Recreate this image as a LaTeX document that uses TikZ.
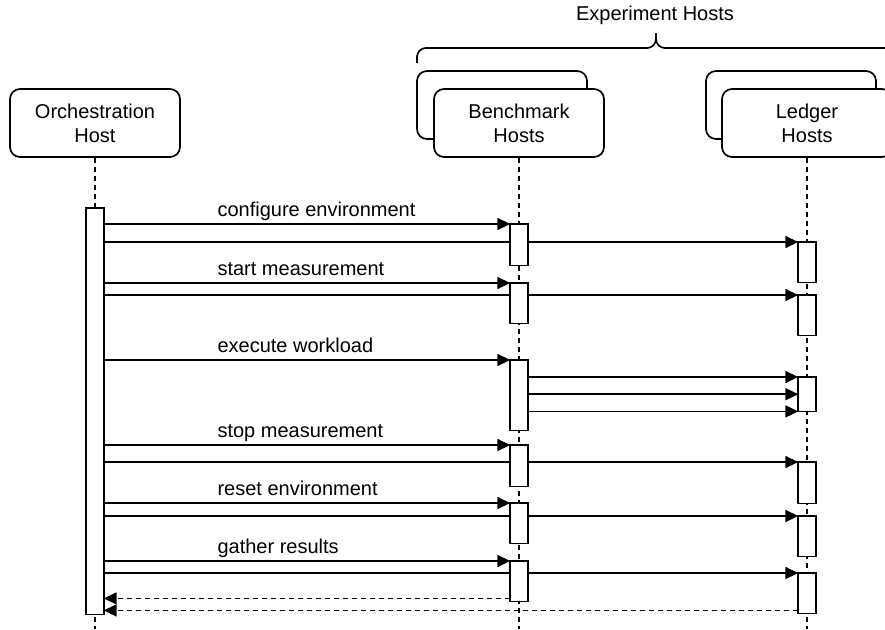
\documentclass[tikz,border=0pt]{standalone}
\usepackage{fontspec}
\setmainfont{Liberation Sans}
\usetikzlibrary{arrows.meta}

\begin{document}
\begin{tikzpicture}[x=1pt,y=-1pt,font=\fontsize{20}{24}\selectfont,
	host/.style={draw=black,line width=1.7pt,fill=white,rounded corners=10pt,minimum width=170pt,minimum height=68pt,align=center,inner sep=0pt},
	bar/.style={minimum width=17pt,inner sep=0pt,anchor=north},
	barbox/.style={draw=black,line width=1.7pt,fill=white},
	lifeline/.style={line width=1.7pt,dash pattern=on 5pt off 4pt},
	msg/.style={line width=1.7pt,-{Triangle[length=13pt,width=12pt]}},
	reply/.style={msg,dash pattern=on 5pt off 4pt},
	msglabel/.style={anchor=base west,at start,inner sep=0pt,xshift=113pt,yshift=8pt},
	brace/.style={line width=1.7pt,rounded corners=9pt}]
	\useasboundingbox (0,0) rectangle (885,629);
	\clip (0,0) rectangle (885,629);
	\coordinate (bottom) at (0,629);
	\node (exp) at (655,15) {Experiment Hosts};
	\draw[brace] (417,63) -- (417,48) -- (656,48) -- (656,33);
	\draw[brace] (895,63) -- (895,48) -- (656,48) -- (656,33);
	\node[host] (orch) at (95,123) {Orchestration\\Host};
	\node[host] (benchback) at (502,105) {};
	\node[host] (bench) at (519,123) {Benchmark\\Hosts};
	\node[host] (ledgerback) at (791,105) {};
	\node[host] (ledger) at (807,123) {Ledger\\Hosts};
	\draw[lifeline] (orch.south) -- (orch.south |- bottom);
	\draw[lifeline] (bench.south) -- (bench.south |- bottom);
	\draw[lifeline] (ledger.south) -- (ledger.south |- bottom);
	\path (95,208) node[bar,minimum height=406pt] (oa) {};
	\path (519,224) node[bar,minimum height=41pt] (b1) {};
	\path (519,283) node[bar,minimum height=40pt] (b2) {};
	\path (519,360) node[bar,minimum height=70pt] (b3) {};
	\path (519,445) node[bar,minimum height=41pt] (b4) {};
	\path (519,503) node[bar,minimum height=40pt] (b5) {};
	\path (519,561) node[bar,minimum height=40pt] (b6) {};
	\path (807,242) node[bar,minimum height=40pt] (l1) {};
	\path (807,295) node[bar,minimum height=40pt] (l2) {};
	\path (807,377) node[bar,minimum height=34pt] (l3) {};
	\path (807,462) node[bar,minimum height=41pt] (l4) {};
	\path (807,516) node[bar,minimum height=40pt] (l5) {};
	\path (807,573) node[bar,minimum height=40pt] (l6) {};
	\draw[msg] (oa.east |- b1.north) -- node[msglabel] {configure environment} (b1.north west);
	\draw[msg] (oa.east |- l1.north) -- (l1.north west);
	\draw[msg] (oa.east |- b2.north) -- node[msglabel] {start measurement} (b2.north west);
	\draw[msg] (oa.east |- l2.north) -- (l2.north west);
	\draw[msg] (oa.east |- b3.north) -- node[msglabel] {execute workload} (b3.north west);
	\draw[msg] (b3.east |- l3.north) -- (l3.north west);
	\draw[msg] (b3.east |- l3.west) -- (l3.west);
	\draw[msg] (b3.east |- l3.south) -- (l3.south west);
	\draw[msg] (oa.east |- b4.north) -- node[msglabel] {stop measurement} (b4.north west);
	\draw[msg] (oa.east |- l4.north) -- (l4.north west);
	\draw[msg] (oa.east |- b5.north) -- node[msglabel] {reset environment} (b5.north west);
	\draw[msg] (oa.east |- l5.north) -- (l5.north west);
	\draw[msg] (oa.east |- b6.north) -- node[msglabel] {gather results} (b6.north west);
	\draw[msg] (oa.east |- l6.north) -- (l6.north west);
	\coordinate (r1) at ([yshift=3pt]b6.south west);
	\coordinate (r2) at ([yshift=3pt]l6.south west);
	\draw[reply] (r1) -- (oa.east |- r1);
	\draw[reply] (r2) -- (oa.east |- r2);
	\foreach \b in {oa,b1,b2,b3,b4,b5,b6,l1,l2,l3,l4,l5,l6}
		\draw[barbox] (\b.north west) rectangle (\b.south east);
\end{tikzpicture}
\end{document}
